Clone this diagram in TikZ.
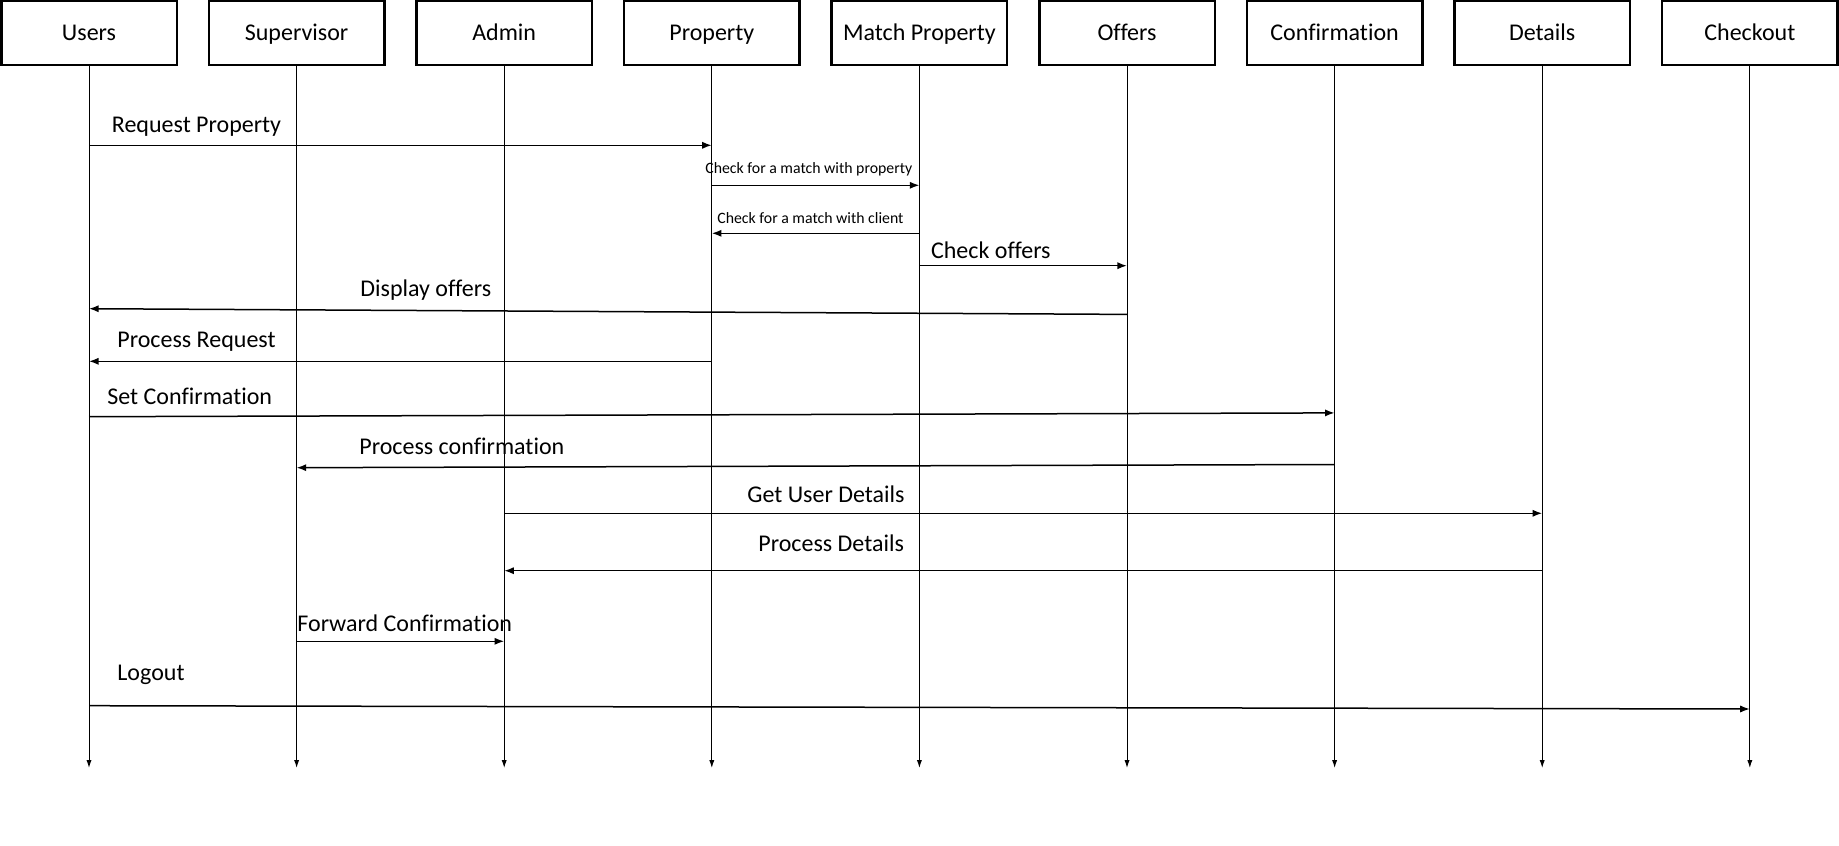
\documentclass[tikz,border=0pt]{standalone}
\usepackage{fontspec}
\setmainfont{Carlito}[Ligatures=CommonOff]
\usetikzlibrary{
  arrows.meta, % for Latex arrow tips
}
\tikzset{
  actor/.style={ % style for the boxes along the top
    rectangle,draw,line width=1.25pt, % drawn as a thick rectangle
    minimum width=87.75pt, % every box the same width
    minimum height=32pt,
    text height=9pt,text depth=1.3pt, % same baseline in every box
    font=\fontsize{12}{14}\selectfont,
  },
  life/.style={ % style for the lifelines
    line width=0.5pt,
    -{Latex[length=4pt,width=2.6pt]}, % narrow arrow tip at the bottom
  },
  msg/.style={ % style for the messages
    line width=0.75pt,
    -{Latex[length=4.8pt,width=3.6pt]},
  },
  lbl/.style={ % style for the message texts
    anchor=base west,inner sep=0pt,
    font=\fontsize{12}{14}\selectfont,
  },
  small/.style={ % style for the two small texts
    lbl,
    font=\fontsize{7.9}{9}\selectfont,
  },
}
\begin{document}
\begin{tikzpicture}[x=0.5pt, y=-0.5pt, node distance=103.8pt]
	\useasboundingbox (0,0) rectangle (1839,845);
	
	\node[actor] (users) at (89,33) {Users};
	
	\node[actor] (supervisor) [right of=users] {Supervisor};
	
	\node[actor] (admin) [right of=supervisor] {Admin};
	
	\node[actor] (property) [right of=admin] {Property};
	
	\node[actor] (match) [right of=property] {Match Property};
	
	\node[actor] (offers) [right of=match] {Offers};
	
	\node[actor] (confirmation) [right of=offers] {Confirmation};
	
	\node[actor] (details) [right of=confirmation] {Details};
	
	\node[actor] (checkout) [right of=details] {Checkout};
	
	\foreach \n in {users,supervisor,admin,property,match,offers,confirmation,details,checkout}
		\draw[life] (\n.south) -- (\n |- 0,768);
	
	% messages
	\draw[msg] (users |- 0,145.3) -- (property |- 0,145.3);
	\node[lbl] (reqprop) at (111.5,132.7) {Request Property};
	
	\draw[msg] (property |- 0,185.3) -- (match |- 0,185.3);
	\node[small] (chkprop) at (705,173.5) {Check for a match with property};
	
	\draw[msg] (match |- 0,233.3) -- (property |- 0,233.3);
	\node[small] (chkclient) at (717,223.5) {Check for a match with client};
	
	\draw[msg] (match |- 0,265.7) -- (offers |- 0,265.7);
	\node[lbl] (chkoffers) at (930.6,258.3) {Check offers};
	
	\draw[msg] (offers |- 0,314.4) -- (users |- 0,308.7);
	\node[lbl] (dispoffers) at (360,296.5) {Display offers};
	
	\draw[msg] (property |- 0,361.3) -- (users |- 0,361.3);
	\node[lbl] (procreq) at (117,347.7) {Process Request};
	
	\draw[msg] (users |- 0,416.7) -- (confirmation |- 0,412.9);
	\node[lbl] (setconf) at (107,404) {Set Confirmation};
	
	\draw[msg] (confirmation |- 0,464.5) -- (supervisor |- 0,467.7);
	\node[lbl] (procconf) at (359,454.7) {Process confirmation};
	
	\draw[msg] (admin |- 0,513.3) -- (details |- 0,513.3);
	\node[lbl] (getuser) at (747,502.7) {Get User Details};
	
	\draw[msg] (details |- 0,570.7) -- (admin |- 0,570.7);
	\node[lbl] (procdet) at (758,551.7) {Process Details};
	
	\draw[msg] (supervisor |- 0,641.3) -- (admin |- 0,641.3);
	\node[lbl] (fwdconf) at (297,631.7) {Forward Confirmation};
	
	\draw[msg] (users |- 0,705.7) -- (checkout |- 0,709);
	\node[lbl] (logout) at (117,680.7) {Logout};
\end{tikzpicture}
\end{document}
